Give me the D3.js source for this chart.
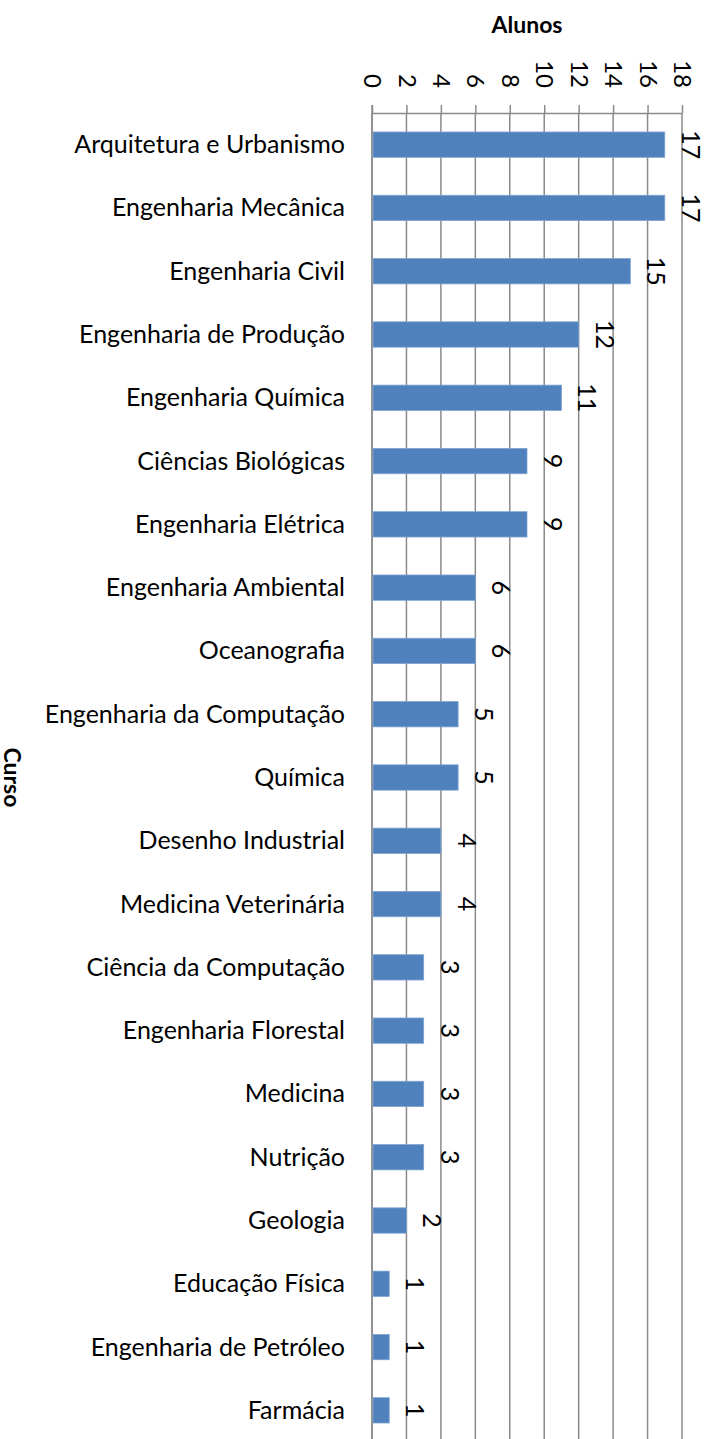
<!DOCTYPE html>
<html>
<head>
<meta charset="utf-8">
<script src="https://d3js.org/d3.v7.min.js"></script>
<style>
  body { margin: 0; background: #fff; }
  text { font-family: Lato, "Open Sans", sans-serif; fill: #000; }
  .cat { font-size: 25px; }
  .tick-label { font-size: 24px; }
  .value { font-size: 25px; }
  .title { font-size: 23px; font-weight: bold; }
</style>
</head>
<body>
<script>
var cursos = ["Arquitetura e Urbanismo", "Engenharia Mecânica", "Engenharia Civil",
  "Engenharia de Produção", "Engenharia Química", "Ciências Biológicas",
  "Engenharia Elétrica", "Engenharia Ambiental", "Oceanografia",
  "Engenharia da Computação", "Química", "Desenho Industrial",
  "Medicina Veterinária", "Ciência da Computação", "Engenharia Florestal",
  "Medicina", "Nutrição", "Geologia", "Educação Física",
  "Engenharia de Petróleo", "Farmácia"];
var alunos = [17, 17, 15, 12, 11, 9, 9, 6, 6, 5, 5, 4, 4, 3, 3, 3, 3, 2, 1, 1, 1];
var ticks = [0, 2, 4, 6, 8, 10, 12, 14, 16, 18];
var xTitle = "Alunos", yTitle = "Curso";

var width = 709, height = 1439;
var plot = {left: 372, right: 682, top: 113, bottom: 1442};
var gridColor = "#8a8a8a", barColor = "#4f81bd";

var svg = d3.select("body").append("svg")
  .attr("width", width)
  .attr("height", height);

var x = d3.scaleLinear()
  .domain([0, 18])
  .range([plot.left, plot.right]);

var y = d3.scaleBand()
  .domain(cursos)
  .range([plot.top, plot.bottom])
  .paddingInner(0.6)
  .paddingOuter(0.3);

// vertical gridlines
svg.append("g")
  .selectAll("line")
  .data(ticks)
  .enter().append("line")
  .attr("x1", function(d){ return x(d); })
  .attr("x2", function(d){ return x(d); })
  .attr("y1", plot.top)
  .attr("y2", plot.bottom)
  .style("stroke", gridColor)
  .style("stroke-width", 1.5);

// top axis
var xAxis = d3.axisTop(x)
  .tickValues(ticks)
  .tickSize(8)
  .tickSizeOuter(0)
  .tickPadding(0);

var axisG = svg.append("g")
  .attr("transform", "translate(0," + plot.top + ")")
  .call(xAxis);
axisG.select(".domain").style("stroke", gridColor).style("stroke-width", 1.5);
axisG.selectAll(".tick line").style("stroke", gridColor).style("stroke-width", 1.5);
axisG.selectAll(".tick text").remove();

axisG.selectAll(".tick")
  .append("text")
  .attr("class", "tick-label")
  .attr("text-anchor", "end")
  .attr("dy", "0.35em")
  .attr("transform", "translate(0,-25) rotate(90)")
  .text(function(d){ return d; });

// category axis line
svg.append("line")
  .attr("x1", x(0)).attr("x2", x(0))
  .attr("y1", plot.top - 8).attr("y2", plot.bottom)
  .style("stroke", gridColor)
  .style("stroke-width", 1.5);

// bars
svg.append("g")
  .selectAll("rect")
  .data(alunos)
  .enter().append("rect")
  .attr("x", x(0) + 1)
  .attr("y", function(d, i){ return y(cursos[i]); })
  .attr("width", function(d){ return x(d) - x(0) - 1; })
  .attr("height", y.bandwidth())
  .style("fill", barColor)
  .style("stroke", "#7ea3d2")
  .style("stroke-width", 0.8);

// value labels
svg.append("g")
  .selectAll("text")
  .data(alunos)
  .enter().append("text")
  .attr("class", "value")
  .attr("text-anchor", "middle")
  .attr("transform", function(d, i){
    return "translate(" + (x(d) + 17) + "," + (y(cursos[i]) + y.bandwidth() / 2) + ") rotate(90)";
  })
  .text(function(d){ return d; });

// category labels
svg.append("g")
  .selectAll("text")
  .data(cursos)
  .enter().append("text")
  .attr("class", "cat")
  .attr("text-anchor", "end")
  .attr("x", plot.left - 27)
  .attr("y", function(d){ return y(d) + y.bandwidth() / 2 + 8.5; })
  .text(function(d){ return d; });

// axis titles
svg.append("text")
  .attr("class", "title")
  .attr("text-anchor", "middle")
  .attr("x", (plot.left + plot.right) / 2)
  .attr("y", 33)
  .text(xTitle);

svg.append("text")
  .attr("class", "title")
  .attr("text-anchor", "middle")
  .attr("transform", "translate(4," + (plot.top + plot.bottom) / 2 + ") rotate(90)")
  .text(yTitle);
</script>
</body>
</html>
